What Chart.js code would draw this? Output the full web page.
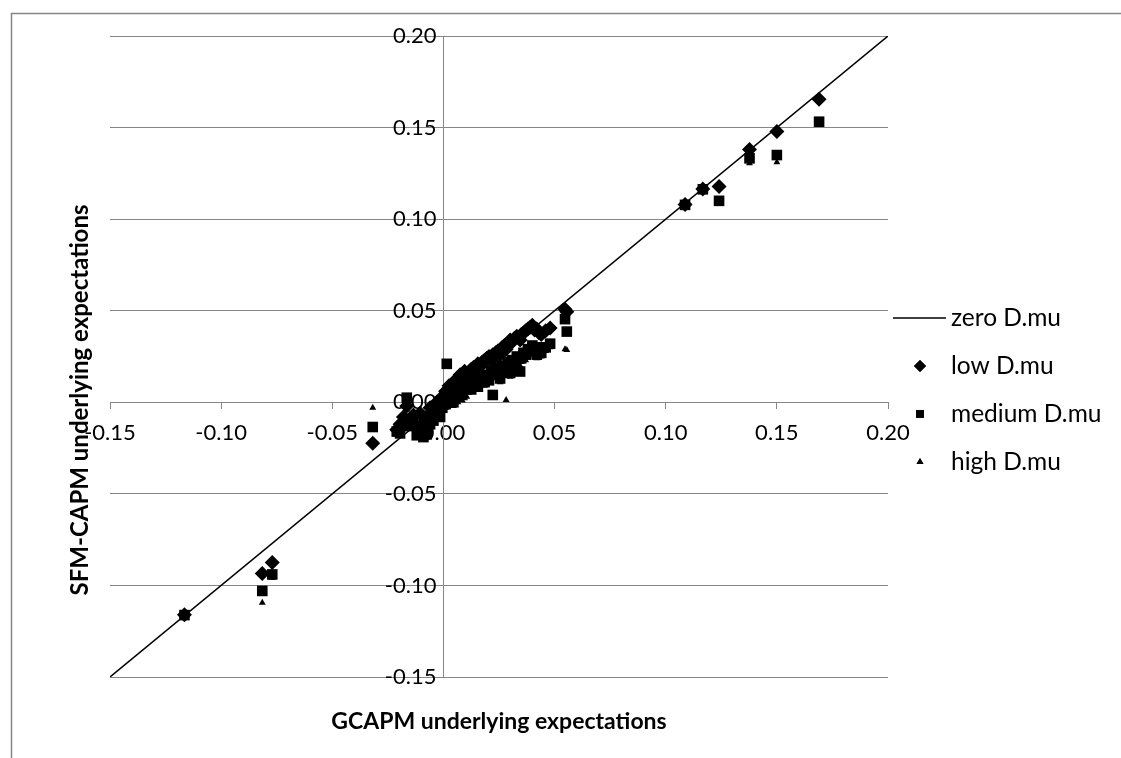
<!DOCTYPE html>
<html>
<head>
<meta charset="utf-8">
<script src="https://cdn.jsdelivr.net/npm/chart.js@4/dist/chart.umd.min.js"></script>
<style>
  html, body { margin: 0; padding: 0; background: #ffffff; }
  #wrap { width: 1121px; height: 758px; }
</style>
</head>
<body>
<div id="wrap"><canvas id="c" width="1121" height="758"></canvas></div>
<script>
// GCAPM underlying expectation of each asset (x) and the SFM-CAPM
// expectation obtained for three levels of D.mu (y).
const gcapm = [
  -0.1165, -0.0815, -0.0770, -0.0318,
  -0.0210, -0.0195, -0.0180, -0.0165, -0.0150, -0.0135, -0.0120, -0.0105, -0.0090, -0.0075,
  -0.0060, -0.0045, -0.0030, -0.0015, -0.0005,
   0.0010,  0.0015,  0.0025,  0.0035,  0.0045,  0.0055,  0.0065,  0.0075,  0.0085,  0.0095,
   0.0105,  0.0115,  0.0125,  0.0135,  0.0145,  0.0155,  0.0165,  0.0175,  0.0185,  0.0195,
   0.0205,  0.0215,  0.0222,  0.0235,  0.0245,  0.0255,  0.0265,  0.0275,  0.0282,  0.0290,
   0.0300,  0.0310,  0.0320,  0.0330,  0.0345,  0.0350,  0.0360,  0.0370,  0.0380,  0.0390,
   0.0400,  0.0410,  0.0420,  0.0430,  0.0440,  0.0460,  0.0480,  0.0547,  0.0555,
   0.1087,  0.1167,  0.1240,  0.1377,  0.1500,  0.1690
];
const lowDmu = [
  -0.1160, -0.0935, -0.0875, -0.0224,
  -0.0150, -0.0120, -0.0080, -0.0020, -0.0100, -0.0070, -0.0140, -0.0060, -0.0110, -0.0080,
  -0.0030, -0.0050,  0.0000, -0.0020,  0.0030,
   0.0060,  0.0050,  0.0090,  0.0070,  0.0110,  0.0120,  0.0100,  0.0150,  0.0130,  0.0170,
   0.0140,  0.0160,  0.0180,  0.0190,  0.0170,  0.0210,  0.0200,  0.0220,  0.0230,  0.0240,
   0.0250,  0.0230,  0.0260,  0.0270,  0.0280,  0.0260,  0.0300,  0.0310,  0.0290,  0.0320,
   0.0340,  0.0330,  0.0350,  0.0360,  0.0340,  0.0370,  0.0380,  0.0390,  0.0400,  0.0410,
   0.0420,  0.0395,  0.0400,  0.0380,  0.0370,  0.0390,  0.0406,  0.0508,  0.0495,
   0.1080,  0.1165,  0.1178,  0.1380,  0.1478,  0.1655
];
const mediumDmu = [
  -0.1162, -0.1030, -0.0940, -0.0135,
  -0.0160, -0.0170, -0.0120,  0.0025, -0.0130, -0.0110, -0.0180, -0.0150, -0.0190, -0.0175,
  -0.0120, -0.0100, -0.0060, -0.0080, -0.0030,
  -0.0010,  0.0210,  0.0020,  0.0040,  0.0000,  0.0050,  0.0030,  0.0060,  0.0040,  0.0090,
   0.0070,  0.0100,  0.0070,  0.0090,  0.0110,  0.0085,  0.0120,  0.0140,  0.0110,  0.0150,
   0.0120,  0.0170,  0.0040,  0.0150,  0.0190,  0.0130,  0.0200,  0.0170,  0.0190,  0.0220,
   0.0160,  0.0230,  0.0210,  0.0250,  0.0168,  0.0240,  0.0270,  0.0260,  0.0290,  0.0280,
   0.0310,  0.0280,  0.0260,  0.0300,  0.0270,  0.0300,  0.0320,  0.0454,  0.0386,
   0.1078,  0.1163,  0.1100,  0.1332,  0.1350,  0.1532
];
const highDmu = [
  -0.1165, -0.1095, -0.0960, -0.0030,
  -0.0140, -0.0155, -0.0110, -0.0040, -0.0125, -0.0105, -0.0165, -0.0130, -0.0170, -0.0150,
  -0.0110, -0.0090, -0.0070, -0.0075, -0.0040,
  -0.0030,  0.0010, -0.0010,  0.0010, -0.0020,  0.0020,  0.0000,  0.0030,  0.0010,  0.0060,
   0.0030,  0.0070,  0.0060,  0.0070,  0.0080,  0.0070,  0.0090,  0.0100,  0.0090,  0.0120,
   0.0110,  0.0130,  0.0150,  0.0140,  0.0160,  0.0110,  0.0170,  0.0150,  0.0013,  0.0190,
   0.0140,  0.0210,  0.0190,  0.0230,  0.0200,  0.0220,  0.0250,  0.0230,  0.0270,  0.0260,
   0.0290,  0.0250,  0.0240,  0.0280,  0.0250,  0.0280,  0.0300,  0.0290,  0.0286,
   0.1075,  0.1160,  0.1100,  0.1305,  0.1310,  0.1532
];
// Reference line where both models agree (no D.mu shift).
const zeroLineX = [-0.15, 0.20];
const zeroLineY = [-0.15, 0.20];

const seriesNames = ['zero D.mu', 'low D.mu', 'medium D.mu', 'high D.mu'];
const tickValues = [-0.15, -0.10, -0.05, 0.00, 0.05, 0.10, 0.15, 0.20];
const tickLabels = ['-0.15', '-0.10', '-0.05', '0.00', '0.05', '0.10', '0.15', '0.20'];
const xTitle = 'GCAPM underlying expectations';
const yTitle = 'SFM-CAPM underlying expectations';

const pairs = (xs, ys) => xs.map((x, i) => ({ x: x, y: ys[i] }));

const FONT = 'Lato, "Liberation Sans", sans-serif';
const GRID = '#868686';
const INK = '#000000';

const markerStyles = [
  { style: 'line' },
  { style: 'rectRot', legendRadius: 6 },
  { style: 'rect', legendRadius: 5.5 },
  { style: 'triangle', legendRadius: 4 }
];

// Frame, axis titles and the legend on the right.
const decorations = {
  id: 'decorations',
  beforeDraw(chart) {
    const ctx = chart.ctx;
    ctx.save();
    ctx.fillStyle = '#ffffff';
    ctx.fillRect(0, 0, chart.width, chart.height);
    ctx.strokeStyle = GRID;
    ctx.lineWidth = 1.5;
    ctx.beginPath();
    ctx.moveTo(11.5, chart.height + 5);
    ctx.lineTo(11.5, 13.5);
    ctx.lineTo(chart.width + 5, 13.5);
    ctx.stroke();
    ctx.restore();
  },
  afterDraw(chart) {
    const ctx = chart.ctx;
    const area = chart.chartArea;
    ctx.save();
    ctx.fillStyle = INK;
    ctx.textAlign = 'center';
    ctx.textBaseline = 'middle';
    ctx.font = 'bold 23px ' + FONT;
    ctx.fillText(xTitle, (area.left + area.right) / 2, 722);
    ctx.save();
    ctx.translate(80, 400);
    ctx.rotate(-Math.PI / 2);
    ctx.font = 'bold 24px ' + FONT;
    ctx.fillText(yTitle, 0, 0);
    ctx.restore();

    // legend
    ctx.font = '24.5px ' + FONT;
    ctx.textAlign = 'left';
    const rowY = [318, 366, 414, 462];
    chart.data.datasets.forEach((ds, i) => {
      const y = rowY[i];
      const m = markerStyles[i];
      if (m.style === 'line') {
        ctx.strokeStyle = INK;
        ctx.lineWidth = 1.5;
        ctx.beginPath();
        ctx.moveTo(893, y);
        ctx.lineTo(946, y);
        ctx.stroke();
      } else {
        Chart.helpers.drawPoint(ctx, {
          pointStyle: m.style, radius: m.legendRadius, rotation: 0, borderWidth: 0
        }, 920, y);
        ctx.fillStyle = INK;
        ctx.fill();
      }
      ctx.fillStyle = INK;
      ctx.fillText(seriesNames[i], 951, y);
    });
    ctx.restore();
  },
  afterLayout(chart) {
    // keep the vertical axis labels a little off the axis line
    const ys = chart.scales.y;
    if (!ys._shifted) {
      const draw = ys.drawLabels;
      ys.drawLabels = function (ca) {
        const c = this.ctx;
        c.save();
        c.translate(-7, 0);
        draw.call(this, ca);
        c.restore();
      };
      ys._shifted = true;
    }
  }
};

const setTicks = (scale) => { scale.ticks = tickValues.map(v => ({ value: v })); };

new Chart(document.getElementById('c'), {
  type: 'scatter',
  data: {
    datasets: [
      {
        label: seriesNames[0],
        data: pairs(zeroLineX, zeroLineY),
        showLine: true,
        borderColor: INK,
        borderWidth: 1.5,
        pointRadius: 0
      },
      {
        label: seriesNames[1],
        data: pairs(gcapm, lowDmu),
        pointStyle: 'rectRot',
        pointRadius: 7.5,
        backgroundColor: INK,
        borderColor: INK,
        borderWidth: 0
      },
      {
        label: seriesNames[2],
        data: pairs(gcapm, mediumDmu),
        pointStyle: 'rect',
        pointRadius: 7.5,
        backgroundColor: INK,
        borderColor: INK,
        borderWidth: 0
      },
      {
        label: seriesNames[3],
        data: pairs(gcapm, highDmu),
        pointStyle: 'triangle',
        pointRadius: 4,
        backgroundColor: INK,
        borderColor: INK,
        borderWidth: 0
      }
    ]
  },
  options: {
    responsive: false,
    animation: false,
    events: [],
    devicePixelRatio: 1,
    layout: { padding: { left: 110, right: 233, top: 36, bottom: 81 } },
    plugins: { legend: { display: false }, tooltip: { enabled: false }, title: { display: false } },
    scales: {
      x: {
        type: 'linear',
        min: -0.15, max: 0.20,
        position: { y: 0 },
        afterBuildTicks: setTicks,
        afterFit: (s) => { s.height = 0; },
        grid: { drawOnChartArea: false, drawTicks: true, tickLength: 6, color: GRID, lineWidth: 1 },
        border: { display: true, color: GRID, width: 1 },
        ticks: {
          callback: (v, i) => tickLabels[i],
          font: { family: FONT, size: 22 },
          color: INK,
          padding: 11,
          maxRotation: 0,
          autoSkip: false
        }
      },
      y: {
        type: 'linear',
        min: -0.15, max: 0.20,
        position: { x: 0 },
        afterBuildTicks: setTicks,
        afterFit: (s) => { s.width = 0; },
        grid: { drawOnChartArea: true, drawTicks: true, tickLength: 6, color: GRID, lineWidth: 1 },
        border: { display: true, color: GRID, width: 1 },
        ticks: {
          callback: (v, i) => tickLabels[i],
          font: { family: FONT, size: 22 },
          color: INK,
          padding: 4,
          autoSkip: false
        }
      }
    }
  },
  plugins: [decorations]
});
</script>
</body>
</html>
